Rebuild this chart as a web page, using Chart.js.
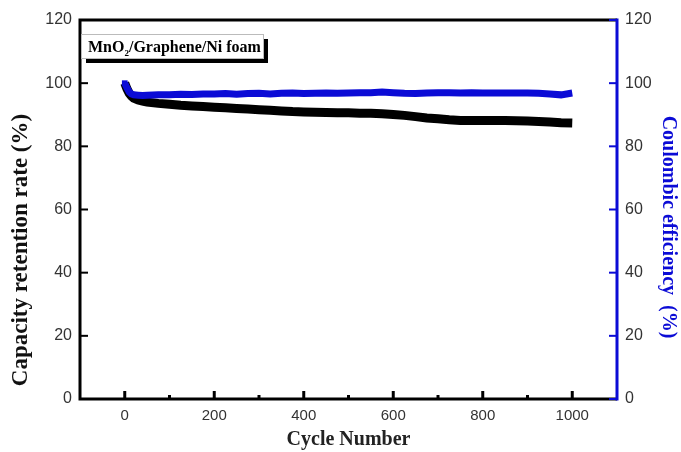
<!DOCTYPE html>
<html>
<head>
<meta charset="utf-8">
<script src="https://cdn.jsdelivr.net/npm/chart.js@4/dist/chart.umd.min.js"></script>
<style>
  html, body { margin: 0; padding: 0; background: #fff; }
  #wrap { width: 681px; height: 452px; position: relative; }
</style>
</head>
<body>
<div id="wrap"><canvas id="cycleChart"></canvas></div>
<script>
  // data
  const cycles = [0, 5, 10, 15, 20, 30, 40, 50, 75, 100, 125, 150, 175, 200, 225, 250, 275, 300,
    325, 350, 375, 400, 425, 450, 475, 500, 525, 550, 575, 600, 625, 650, 675, 700, 725, 750,
    775, 800, 825, 850, 875, 900, 925, 950, 975, 1000];
  const retention = [100, 98.2, 96.8, 95.9, 95.3, 94.7, 94.3, 94.0, 93.6, 93.3, 93.0, 92.8, 92.6,
    92.4, 92.2, 92.0, 91.8, 91.6, 91.4, 91.2, 91.0, 90.9, 90.8, 90.7, 90.6, 90.6, 90.5, 90.5,
    90.3, 90.1, 89.8, 89.4, 89.0, 88.7, 88.4, 88.2, 88.2, 88.2, 88.2, 88.2, 88.1, 88.0, 87.9,
    87.7, 87.5, 87.4];
  const coulombic = [100, 98.5, 97.2, 96.6, 96.3, 96.2, 96.1, 96.2, 96.3, 96.3, 96.5, 96.4, 96.6,
    96.6, 96.7, 96.5, 96.7, 96.8, 96.6, 96.8, 96.9, 96.7, 96.8, 96.9, 96.8, 96.9, 97.0, 97.0,
    97.2, 97.0, 96.8, 96.7, 96.9, 97.0, 97.0, 96.9, 97.0, 96.9, 96.9, 96.9, 96.9, 96.9, 96.8,
    96.6, 96.3, 96.9];
  const xTicks = [0, 200, 400, 600, 800, 1000];
  const xMinorTicks = [100, 300, 500, 700, 900];
  const yTicks = [0, 20, 40, 60, 80, 100, 120];

  const BLUE = '#0b0bd6';
  const xTickFont = { family: 'Liberation Sans, Arial, sans-serif', size: 15 };
  const yTickFont = { family: 'Liberation Sans, Arial, sans-serif', size: 16 };
  const SERIF = '"Liberation Serif", "Times New Roman", serif';

  function drawTitle(ctx, text, x, y, rot, font, color) {
    ctx.save();
    ctx.translate(x, y);
    ctx.rotate(rot);
    ctx.font = font;
    ctx.fillStyle = color;
    ctx.textAlign = 'center';
    ctx.textBaseline = 'middle';
    ctx.fillText(text, 0, 0);
    ctx.restore();
  }

  // frame, inward ticks, axis titles and the sample label box
  const framePlugin = {
    id: 'frame',
    afterDatasetsDraw(chart) {
      const { ctx, chartArea: a, scales } = chart;
      const x = scales.x, yl = scales.y, yr = scales.y2;
      ctx.save();
      ctx.lineCap = 'butt';
      ctx.strokeStyle = '#000';
      ctx.lineWidth = 3;
      ctx.beginPath();
      ctx.moveTo(a.right, a.top); ctx.lineTo(a.left, a.top);
      ctx.lineTo(a.left, a.bottom); ctx.lineTo(a.right, a.bottom);
      ctx.stroke();
      ctx.strokeStyle = BLUE;
      ctx.beginPath();
      ctx.moveTo(a.right, a.top - 1.5); ctx.lineTo(a.right, a.bottom + 1.5);
      ctx.stroke();

      // x ticks pointing up
      ctx.strokeStyle = '#000';
      ctx.lineWidth = 3;
      xTicks.forEach(v => {
        const px = x.getPixelForValue(v);
        ctx.beginPath(); ctx.moveTo(px, a.bottom); ctx.lineTo(px, a.bottom - 8); ctx.stroke();
      });
      xMinorTicks.forEach(v => {
        const px = x.getPixelForValue(v);
        ctx.beginPath(); ctx.moveTo(px, a.bottom); ctx.lineTo(px, a.bottom - 4); ctx.stroke();
      });
      // left ticks
      ctx.lineWidth = 2;
      yTicks.forEach(v => {
        const py = yl.getPixelForValue(v);
        ctx.beginPath(); ctx.moveTo(a.left, py); ctx.lineTo(a.left + 8, py); ctx.stroke();
      });
      // right ticks
      ctx.strokeStyle = BLUE;
      yTicks.forEach(v => {
        const py = yr.getPixelForValue(v);
        ctx.beginPath(); ctx.moveTo(a.right, py); ctx.lineTo(a.right - 8, py); ctx.stroke();
      });

      // axis titles
      drawTitle(ctx, 'Cycle Number', (a.left + a.right) / 2, 440, 0, 'bold 20px ' + SERIF, '#222');
      drawTitle(ctx, 'Capacity retention rate (%)', 21, 250, -Math.PI / 2, 'bold 23px ' + SERIF, '#111');
      drawTitle(ctx, 'Coulombic efficiency  (%)', 668, 227, Math.PI / 2, 'bold 20px ' + SERIF, BLUE);

      // label box with shadow
      const bx = a.left + 1, by = a.top + 14, bw = 182, bh = 24;
      ctx.fillStyle = '#000';
      ctx.fillRect(bx + 5, by + 5, bw, bh);
      ctx.fillStyle = '#fff';
      ctx.fillRect(bx, by, bw, bh);
      ctx.strokeStyle = '#bbb';
      ctx.lineWidth = 1;
      ctx.strokeRect(bx + 0.5, by + 0.5, bw, bh);
      ctx.fillStyle = '#000';
      ctx.textBaseline = 'alphabetic';
      ctx.font = 'bold 16px ' + SERIF;
      let tx = bx + 7, ty = by + 18;
      ctx.fillText('MnO', tx, ty);
      tx += ctx.measureText('MnO').width;
      ctx.font = 'bold 9px ' + SERIF;
      ctx.fillText('2', tx, ty + 4);
      tx += ctx.measureText('2').width;
      ctx.font = 'bold 16px ' + SERIF;
      ctx.fillText('/Graphene/Ni foam', tx, ty);
      ctx.restore();
    }
  };

  const toPoints = vals => vals.map((v, i) => ({ x: cycles[i], y: v }));
  // only the first measurement shows as a square marker
  const firstOnly = r => cycles.map((c, i) => (i === 0 ? r : 0));

  new Chart(document.getElementById('cycleChart'), {
    type: 'line',
    data: {
      datasets: [
        {
          label: 'Capacity retention rate',
          data: toPoints(retention),
          yAxisID: 'y',
          borderColor: '#000',
          borderWidth: 9,
          pointRadius: 0,
          tension: 0,
          order: 2
        },
        {
          label: 'Coulombic efficiency',
          data: toPoints(coulombic),
          yAxisID: 'y2',
          borderColor: BLUE,
          borderWidth: 7,
          pointStyle: 'rect',
          pointRadius: firstOnly(4),
          pointBackgroundColor: BLUE,
          pointBorderWidth: 0,
          tension: 0,
          order: 1
        }
      ]
    },
    options: {
      responsive: true,
      maintainAspectRatio: false,
      animation: false,
      layout: { padding: { top: 20 } },
      plugins: { legend: { display: false }, tooltip: { enabled: false } },
      scales: {
        x: {
          type: 'linear',
          min: -100,
          max: 1100,
          afterBuildTicks: s => { s.ticks = xTicks.map(v => ({ value: v })); },
          afterFit: s => { s.height = 53; },
          grid: { display: false, drawTicks: false },
          border: { display: false },
          ticks: { color: '#333', font: xTickFont, padding: 8, maxRotation: 0, callback: v => String(v) }
        },
        y: {
          position: 'left',
          min: 0,
          max: 120,
          afterBuildTicks: s => { s.ticks = yTicks.map(v => ({ value: v })); },
          afterFit: s => { s.width = 80; },
          grid: { display: false, drawTicks: false },
          border: { display: false },
          ticks: { color: '#333', font: yTickFont, padding: 8 }
        },
        y2: {
          position: 'right',
          min: 0,
          max: 120,
          afterBuildTicks: s => { s.ticks = yTicks.map(v => ({ value: v })); },
          afterFit: s => { s.width = 64; },
          grid: { display: false, drawTicks: false },
          border: { display: false },
          ticks: { color: '#333', font: yTickFont, padding: 8 }
        }
      }
    },
    plugins: [framePlugin]
  });
</script>
</body>
</html>
